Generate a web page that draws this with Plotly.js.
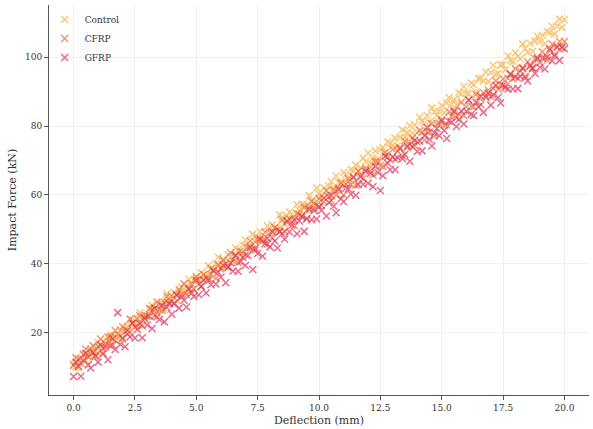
<!DOCTYPE html>
<html>
<head>
<meta charset="utf-8">
<script src="https://cdn.plot.ly/plotly-3.0.1.min.js"></script>
<style>html,body{margin:0;padding:0;background:#fff;}#chart{width:593px;height:429px;}</style>
</head>
<body>
<div id="chart"></div>
<script>
const deflection = [
0.0,0.1,0.2,0.3,0.4,0.5,0.6,0.7,0.8,0.9,1.0,1.1,1.2,1.3,1.4,1.5,1.6,1.7,1.8,1.9,
2.0,2.1,2.2,2.3,2.4,2.5,2.6,2.7,2.8,2.9,3.0,3.1,3.2,3.3,3.4,3.5,3.6,3.7,3.8,3.9,
4.0,4.1,4.2,4.3,4.4,4.5,4.6,4.7,4.8,4.9,5.0,5.1,5.2,5.3,5.4,5.5,5.6,5.7,5.8,5.9,
6.0,6.1,6.2,6.3,6.4,6.5,6.6,6.7,6.8,6.9,7.0,7.1,7.2,7.3,7.4,7.5,7.6,7.7,7.8,7.9,
8.0,8.1,8.2,8.3,8.4,8.5,8.6,8.7,8.8,8.9,9.0,9.1,9.2,9.3,9.4,9.5,9.6,9.7,9.8,9.9,
10.0,10.1,10.2,10.3,10.4,10.5,10.6,10.7,10.8,10.9,11.0,11.1,11.2,11.3,11.4,11.5,11.6,11.7,11.8,11.9,
12.0,12.1,12.2,12.3,12.4,12.5,12.6,12.7,12.8,12.9,13.0,13.1,13.2,13.3,13.4,13.5,13.6,13.7,13.8,13.9,
14.0,14.1,14.2,14.3,14.4,14.5,14.6,14.7,14.8,14.9,15.0,15.1,15.2,15.3,15.4,15.5,15.6,15.7,15.8,15.9,
16.0,16.1,16.2,16.3,16.4,16.5,16.6,16.7,16.8,16.9,17.0,17.1,17.2,17.3,17.4,17.5,17.6,17.7,17.8,17.9,
18.0,18.1,18.2,18.3,18.4,18.5,18.6,18.7,18.8,18.9,19.0,19.1,19.2,19.3,19.4,19.5,19.6,19.7,19.8,19.9,
20.0];

const controlForce = [
10.8,10.1,9.8,12.4,13.5,11.9,13.3,15.3,13.3,14.7,
17.1,14.5,14.2,17.0,17.4,19.1,19.1,17.6,18.5,20.8,
18.0,21.1,21.9,20.1,23.7,22.6,21.9,25.7,24.2,23.7,
24.7,26.9,27.9,26.3,25.5,28.2,28.6,26.6,31.3,29.5,
29.1,31.7,29.4,31.8,33.2,32.0,33.5,35.5,31.8,35.3,
35.7,34.2,37.4,36.9,36.6,39.4,36.7,37.9,40.0,41.9,
39.0,40.7,39.2,42.6,42.1,41.3,44.6,44.0,42.4,45.4,
46.9,44.8,45.2,48.6,46.4,47.8,49.3,46.8,46.9,51.0,
50.2,51.3,50.5,50.4,54.2,53.5,51.6,53.9,55.0,54.3,
53.7,57.2,55.5,57.1,57.2,55.6,59.8,58.4,57.5,62.0,
60.3,59.7,62.1,59.9,62.6,63.9,62.1,65.5,63.6,63.3,
66.5,65.9,64.0,67.4,67.0,68.7,67.0,67.9,70.7,69.7,
72.2,69.1,70.7,72.8,70.5,73.2,73.8,71.3,75.4,75.0,
74.4,76.5,74.3,76.8,78.9,76.7,78.1,80.1,77.9,80.4,
78.2,82.6,81.4,81.0,83.1,81.2,85.3,84.1,83.1,84.3,
86.0,83.9,86.7,88.3,86.3,87.7,86.1,89.7,89.3,91.5,
89.6,89.4,92.5,92.0,89.9,93.8,93.9,93.2,95.7,93.0,
95.6,97.7,95.1,95.3,97.8,97.9,96.4,100.4,99.0,98.8,
101.3,100.3,99.6,103.9,102.5,101.5,104.1,101.7,104.7,106.1,
104.5,106.4,104.0,107.5,107.3,109.0,106.8,109.1,111.1,108.7,
110.9];

const cfrpForce = [
10.4,12.6,12.3,11.1,13.7,15.2,12.9,14.5,16.2,13.5,
16.0,18.1,15.5,16.7,18.7,18.6,16.3,20.6,19.5,19.0,
21.7,20.3,19.6,23.9,22.7,21.6,24.0,24.9,22.0,24.9,
24.8,27.0,26.7,24.9,28.9,26.6,26.5,28.8,30.5,28.8,
30.6,28.2,30.8,32.5,30.9,34.2,31.0,32.9,34.2,32.7,
36.3,35.2,33.5,36.8,35.9,35.7,38.6,38.3,35.8,39.7,
38.5,41.2,40.0,39.0,43.2,40.7,42.4,40.4,43.6,43.4,
42.6,44.6,46.6,44.3,43.9,47.1,46.7,46.6,49.2,45.7,
49.0,47.5,50.5,49.7,49.3,52.7,49.4,52.0,53.0,52.0,
51.1,54.6,54.4,54.0,56.4,53.1,56.5,58.1,56.0,57.2,
59.0,57.0,58.0,61.2,59.6,58.4,61.4,59.9,61.9,63.5,
60.0,63.0,64.7,63.1,64.9,62.8,66.9,65.7,64.8,67.5,
67.4,67.1,65.8,69.6,69.7,68.5,68.3,72.3,71.0,70.2,
73.2,70.4,72.7,73.7,71.3,75.7,73.8,74.8,76.5,74.4,
75.4,78.7,78.2,75.9,78.4,78.3,80.7,77.1,80.7,80.9,
81.9,80.3,80.3,84.2,82.9,84.6,82.4,83.5,86.9,83.1,
85.6,87.5,85.7,85.6,89.2,88.4,86.2,89.7,88.8,90.4,
88.6,91.0,93.2,90.7,92.0,93.7,91.1,93.9,95.2,93.8,
96.7,93.9,96.0,97.0,94.5,98.7,97.3,97.0,99.6,99.4,
98.5,101.6,99.8,99.2,101.9,103.8,100.9,102.9,104.6,102.8,
104.6];

const gfrpForce = [
7.2,11.4,10.2,7.3,11.9,13.9,10.6,9.7,14.2,13.1,
11.4,16.4,13.8,15.8,12.1,16.2,18.2,15.1,25.8,16.5,
18.4,15.9,20.6,18.7,22.7,18.4,20.9,22.6,18.5,24.2,
22.2,24.8,21.2,27.1,24.5,23.8,27.9,23.1,27.3,28.4,
25.3,28.5,31.0,27.1,30.3,29.4,27.4,32.6,31.4,30.5,
35.2,31.0,33.3,35.3,31.5,35.2,33.9,37.9,34.1,37.5,
36.1,39.5,34.5,39.0,40.2,37.9,42.4,37.8,40.6,41.9,
39.5,42.4,44.7,38.3,44.5,43.0,47.2,42.2,45.8,47.4,
44.9,49.2,46.6,44.6,49.4,48.7,47.1,52.5,49.2,51.2,
52.8,48.7,52.4,53.7,49.4,53.1,55.8,52.8,55.4,53.0,
56.6,55.5,59.1,53.9,57.8,59.8,56.7,54.8,61.6,58.9,
58.0,62.0,61.7,60.2,65.3,59.9,63.0,65.2,63.1,66.9,
63.4,66.2,62.4,68.3,66.5,61.3,65.6,71.2,69.2,67.3,
71.0,67.3,70.8,73.4,70.5,71.8,74.2,69.8,74.1,75.9,
72.6,75.7,72.8,77.2,79.5,76.1,74.2,78.0,79.3,77.2,
81.5,78.7,76.4,81.4,81.1,84.2,79.9,81.9,84.4,80.6,
84.3,87.6,83.4,83.1,86.9,85.6,88.6,84.0,88.3,89.6,
86.1,89.0,91.9,88.3,86.7,91.9,91.6,90.8,95.1,90.8,
94.3,90.9,94.5,96.7,94.0,93.1,97.7,96.7,95.3,99.7,
97.1,99.8,96.6,100.1,102.4,98.9,100.4,103.0,99.1,103.0,
102.5];

const seriesNames = ["Control", "CFRP", "GFRP"];
const seriesColors = ["#f7b040", "#ee6a2e", "#dc2f5c"];
const seriesValues = [controlForce, cfrpForce, gfrpForce];

const xTicks = [0, 2.5, 5, 7.5, 10, 12.5, 15, 17.5, 20];
const yTicks = [20, 40, 60, 80, 100];

const traces = seriesNames.map((name, k) => ({
  type: "scatter",
  mode: "markers",
  name: name,
  x: deflection,
  y: seriesValues[k],
  opacity: 0.7,
  marker: {
    symbol: "x-thin",
    size: 7,
    color: seriesColors[k],
    line: {width: 1.5, color: seriesColors[k]}
  }
}));

const font = {family: "DejaVu Serif, serif", color: "#333"};

const layout = {
  width: 593,
  height: 429,
  margin: {l: 49, r: 4, t: 5, b: 34},
  paper_bgcolor: "#fff",
  plot_bgcolor: "#fff",
  font: Object.assign({}, font, {size: 9}),
  showlegend: true,
  legend: {
    x: -0.008, y: 1, xanchor: "left", yanchor: "top",
    bgcolor: "rgba(255,255,255,0)",
    font: Object.assign({}, font, {size: 9}),
    itemwidth: 30,
    tracegroupgap: 0
  },
  xaxis: {
    range: [-1, 21],
    tickvals: xTicks,
    tickformat: ".1f",
    ticks: "outside",
    ticklen: 4,
    tickcolor: "#555",
    showline: true,
    linecolor: "#555",
    linewidth: 1,
    showgrid: true,
    gridcolor: "#ececec",
    gridwidth: 0.8,
    zeroline: false,
    tickfont: Object.assign({}, font, {size: 9}),
    title: {text: "Deflection (mm)", font: Object.assign({}, font, {size: 11}), standoff: 4}
  },
  yaxis: {
    range: [1.85, 115.2],
    tickvals: yTicks,
    ticks: "outside",
    ticklen: 4,
    tickcolor: "#555",
    showline: true,
    linecolor: "#555",
    linewidth: 1,
    showgrid: true,
    gridcolor: "#ececec",
    gridwidth: 0.8,
    zeroline: false,
    tickfont: Object.assign({}, font, {size: 9}),
    title: {text: "Impact Force (kN)", font: Object.assign({}, font, {size: 11}), standoff: 6}
  }
};

Plotly.newPlot("chart", traces, layout, {displayModeBar: false, staticPlot: true});
</script>
</body>
</html>
